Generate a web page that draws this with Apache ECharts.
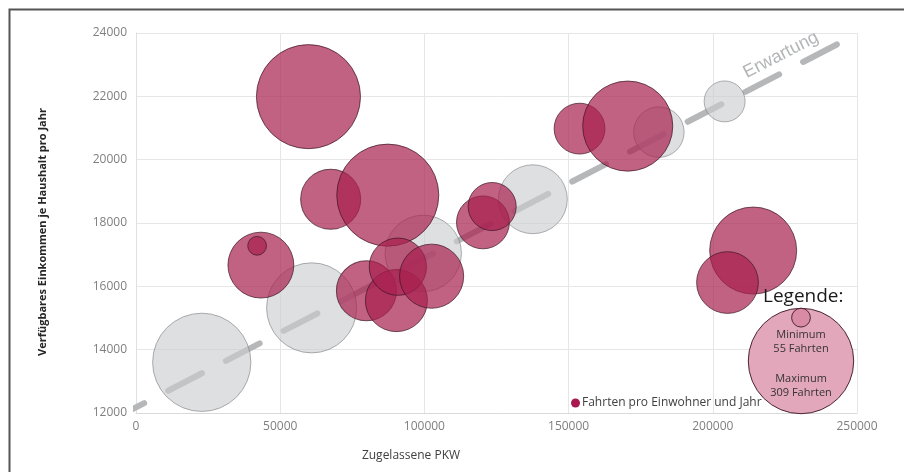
<!DOCTYPE html>
<html>
<head>
<meta charset="utf-8">
<script src="https://cdn.jsdelivr.net/npm/echarts@6/dist/echarts.min.js"></script>
<style>
  html, body { margin: 0; padding: 0; background: #fff; }
  #chart { width: 904px; height: 472px; }
</style>
</head>
<body>
<div id="chart"></div>
<script>
// ---- Data ----
const redName = 'Fahrten pro Einwohner und Jahr';
const redX    = [59800, 67500, 87300, 43300, 42000, 79900, 90300, 90800, 102500, 120300, 123500, 153800, 170500, 214000, 205100];
const redY    = [21990, 18750, 18880, 16670, 17280, 15860, 15550, 16620, 16320, 18020, 18520, 20980, 21060, 17130, 16120];
const redSize = [305,   176,   299,   193,   55,    176,   182,   168,   188,    155,    141,    149,    264,    255,    181];

const grayX    = [22800, 60900, 99600, 137600, 181300, 204100];
const grayY    = [13600, 15320, 17040, 18750, 20870, 21840];
const graySize = [288,   264,   224,   202,    148,    120];

const expectX = [-2700, 245200];
const expectY = [12050, 23740];
const expectLabel = 'Erwartung';

const legendMin = 55;
const legendMax = 309;
const legendTitle = 'Legende:';
const legendMinText = ['Minimum', '55 Fahrten'];
const legendMaxText = ['Maximum', '309 Fahrten'];

const xAxisName = 'Zugelassene PKW';
const yAxisName = 'Verfügbares Einkommen je Haushalt pro Jahr';
const xMin = 0, xMax = 250000, xStep = 50000;
const yMin = 12000, yMax = 24000, yStep = 2000;

// ---- Styling / scale ----
const radiusPerUnit = 0.1706;   // bubble width proportional to value
const FONT = '"Open Sans", "Noto Sans", sans-serif';

const zip = (xs, ys, ss) => xs.map((x, i) => [x, ys[i], ss[i]]);

const chart = echarts.init(document.getElementById('chart'), null, { renderer: 'canvas' });

const lcx = 801, lcyMax = 361;
const rMax = legendMax * radiusPerUnit;
const rMin = legendMin * radiusPerUnit;

const option = {
  animation: false,
  backgroundColor: '#ffffff',
  grid: { left: 136, right: 47, top: 33, bottom: 59 },
  xAxis: {
    type: 'value', min: xMin, max: xMax, interval: xStep,
    axisLine: { show: true, lineStyle: { color: '#d9d9d9', width: 1 } },
    axisTick: { show: false },
    splitLine: { show: true, lineStyle: { color: '#e6e6e6', width: 1 } },
    axisLabel: { color: '#7f7f7f', fontFamily: FONT, fontSize: 12, margin: 8, formatter: v => String(v) }
  },
  yAxis: {
    type: 'value', min: yMin, max: yMax, interval: yStep,
    axisLine: { show: true, lineStyle: { color: '#e0e0e0', width: 1 } },
    axisTick: { show: false },
    splitLine: { show: true, lineStyle: { color: '#e6e6e6', width: 1 } },
    axisLabel: { color: '#7f7f7f', fontFamily: FONT, fontSize: 12, margin: 9, formatter: v => String(v) }
  },
  legend: {
    show: true,
    data: [redName],
    left: 566, top: 392,
    itemWidth: 9, itemHeight: 9, itemGap: 5,
    icon: 'circle',
    itemStyle: { color: '#a8194f', opacity: 1, borderWidth: 0 },
    textStyle: { color: '#404040', fontFamily: FONT, fontSize: 12, padding: [0, 0, 0, -3] },
    selectedMode: false
  },
  series: [
    {
      name: 'Erwartung',
      type: 'line',
      data: expectX.map((x, i) => [x, expectY[i]]),
      showSymbol: false,
      symbol: 'none',
      clip: false,
      silent: true,
      z: 1,
      lineStyle: { color: '#b5b7b9', width: 6, type: [38, 27], dashOffset: 20, cap: 'round' }
    },
    {
      name: 'Erwartet',
      type: 'scatter',
      data: zip(grayX, grayY, graySize),
      symbol: 'circle',
      symbolSize: d => d[2] * radiusPerUnit * 2,
      silent: true,
      z: 2,
      itemStyle: { color: '#c9ccce', opacity: 0.62, borderColor: '#7d8082', borderWidth: 1 },
      emphasis: { disabled: true }
    },
    {
      name: redName,
      type: 'scatter',
      data: zip(redX, redY, redSize),
      symbol: 'circle',
      symbolSize: d => d[2] * radiusPerUnit * 2,
      silent: true,
      z: 3,
      itemStyle: { color: '#a8204f', opacity: 0.7, borderColor: '#3a1424', borderWidth: 1 },
      emphasis: { disabled: true }
    }
  ],
  graphic: [
    // outer frame (right/bottom edges lie outside the window)
    { type: 'rect', left: 7, top: 7, shape: { x: 0, y: 0, width: 1000, height: 1000 },
      style: { fill: 'none', stroke: '#555555', lineWidth: 2 }, silent: true, z: 100 },
    // Erwartung label along the line
    { type: 'text', x: 781, y: 55, rotation: Math.atan(0.518),
      style: { text: expectLabel, fill: '#b3b5b7', font: '18px "Liberation Sans", Arial, sans-serif',
               textAlign: 'center', textVerticalAlign: 'middle' }, silent: true, z: 50 },
    // axis titles
    { type: 'text', x: 411, y: 456,
      style: { text: xAxisName, fill: '#404040', font: '12px ' + FONT, textAlign: 'center', textVerticalAlign: 'middle' },
      silent: true },
    { type: 'text', x: 43, y: 232, rotation: Math.PI / 2,
      style: { text: yAxisName, fill: '#262626', font: 'bold 11px ' + FONT, textAlign: 'center', textVerticalAlign: 'middle' },
      silent: true },
    // size legend
    { type: 'text', x: 763, y: 297,
      style: { text: legendTitle, fill: '#1a1a1a', font: '19px ' + FONT, textAlign: 'left', textVerticalAlign: 'middle' },
      silent: true, z: 60 },
    { type: 'circle', shape: { cx: lcx, cy: lcyMax, r: rMax },
      style: { fill: '#e3a7bb', stroke: '#4a2534', lineWidth: 1 }, silent: true, z: 60 },
    { type: 'circle', shape: { cx: lcx, cy: lcyMax - rMax + rMin, r: rMin },
      style: { fill: '#d98aa5', stroke: '#4a2534', lineWidth: 1 }, silent: true, z: 61 },
    { type: 'text', x: lcx, y: 342,
      style: { text: legendMinText.join('\n'), fill: '#333333', font: '11px ' + FONT, lineHeight: 14,
               textAlign: 'center', textVerticalAlign: 'middle' }, silent: true, z: 62 },
    { type: 'text', x: lcx, y: 386,
      style: { text: legendMaxText.join('\n'), fill: '#333333', font: '11px ' + FONT, lineHeight: 14,
               textAlign: 'center', textVerticalAlign: 'middle' }, silent: true, z: 62 }
  ]
};

chart.setOption(option);
</script>
</body>
</html>
